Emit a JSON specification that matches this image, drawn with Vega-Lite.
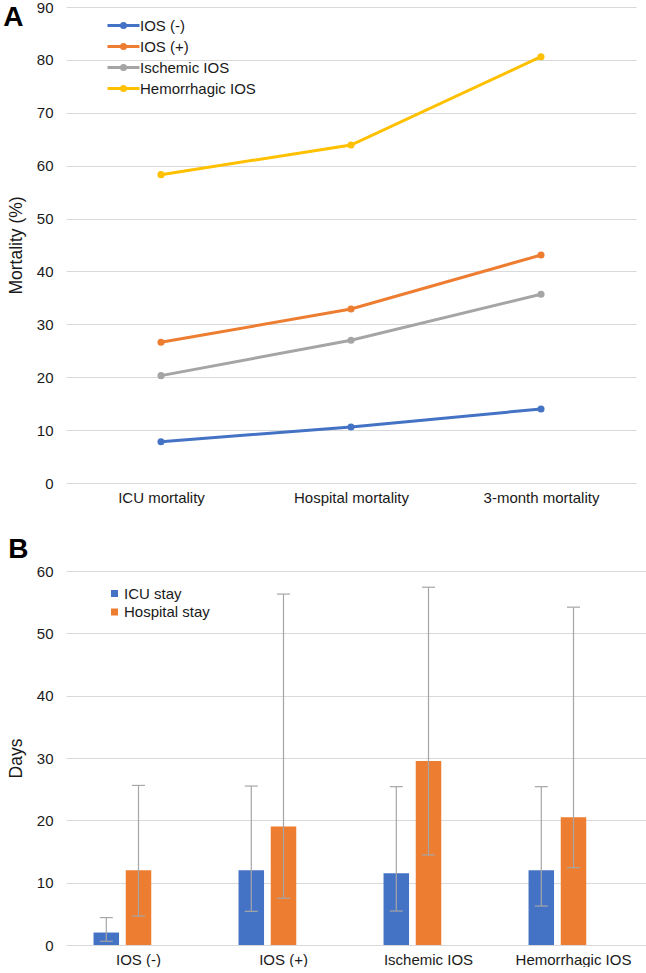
{
  "$schema": "https://vega.github.io/schema/vega-lite/v6.json",
  "padding": {"left": 3, "top": 0, "right": 0, "bottom": 0},
  "background": "white",
  "resolve": {"scale": {"color": "independent"}, "legend": {"color": "independent"}},
  "config": {
    "font": "Liberation Sans",
    "view": {"stroke": null},
    "axis": {
      "labelFont": "Liberation Sans",
      "labelFontSize": 15,
      "labelColor": "#1a1a1a",
      "titleFont": "Liberation Sans",
      "titleFontSize": 17.5,
      "titleFontWeight": "normal",
      "titleColor": "#1a1a1a",
      "gridColor": "#d9d9d9",
      "gridWidth": 1,
      "domain": false,
      "ticks": false
    },
    "legend": {"labelFont": "Liberation Sans", "labelFontSize": 15, "labelColor": "#1a1a1a"},
    "title": {"font": "Liberation Sans", "fontSize": 28, "fontWeight": "bold", "anchor": "start", "frame": "bounds", "color": "#000000", "offset": 0, "baseline": "bottom"},
    "concat": {"spacing": 31}
  },
  "vconcat": [
    {
      "title": {"text": "A", "dy": 36, "dx": -4},
      "width": 570,
      "height": 476,
      "data": {
        "values": [
          {"measure": "ICU mortality", "group": "IOS (-)", "mortality": 7.8},
          {"measure": "Hospital mortality", "group": "IOS (-)", "mortality": 10.6},
          {"measure": "3-month mortality", "group": "IOS (-)", "mortality": 14.0},
          {"measure": "ICU mortality", "group": "IOS (+)", "mortality": 26.6},
          {"measure": "Hospital mortality", "group": "IOS (+)", "mortality": 32.9},
          {"measure": "3-month mortality", "group": "IOS (+)", "mortality": 43.1},
          {"measure": "ICU mortality", "group": "Ischemic IOS", "mortality": 20.3},
          {"measure": "Hospital mortality", "group": "Ischemic IOS", "mortality": 27.0},
          {"measure": "3-month mortality", "group": "Ischemic IOS", "mortality": 35.7},
          {"measure": "ICU mortality", "group": "Hemorrhagic IOS", "mortality": 58.3},
          {"measure": "Hospital mortality", "group": "Hemorrhagic IOS", "mortality": 63.9},
          {"measure": "3-month mortality", "group": "Hemorrhagic IOS", "mortality": 80.6}
        ]
      },
      "mark": {"type": "line", "strokeWidth": 3, "point": {"filled": true, "size": 50, "opacity": 1}},
      "encoding": {
        "x": {
          "field": "measure", "type": "nominal",
          "sort": ["ICU mortality", "Hospital mortality", "3-month mortality"],
          "scale": {"paddingInner": 0, "paddingOuter": 0},
          "axis": {"title": null, "labelAngle": 0, "labelPadding": 7}
        },
        "y": {
          "field": "mortality", "type": "quantitative",
          "scale": {"domain": [0, 90], "nice": false},
          "axis": {"title": "Mortality (%)", "values": [0, 10, 20, 30, 40, 50, 60, 70, 80, 90], "labelPadding": 13, "titlePadding": 11}
        },
        "color": {
          "field": "group", "type": "nominal",
          "scale": {"domain": ["IOS (-)", "IOS (+)", "Ischemic IOS", "Hemorrhagic IOS"], "range": ["#4472C4", "#ED7D31", "#A5A5A5", "#FFC000"]},
          "legend": {
            "title": null, "orient": "none", "legendX": 56, "legendY": 9,
            "symbolType": "M-3,0L1,0M-0.75,0A0.25,0.25,0,1,0,-1.25,0A0.25,0.25,0,1,0,-0.75,0",
            "symbolSize": 256, "symbolStrokeWidth": 3, "rowPadding": 3, "labelOffset": -1
          }
        }
      }
    },
    {
      "title": {"text": "B", "dy": 4, "dx": 1},
      "width": 580,
      "height": 374,
      "data": {
        "values": [
          {"group": "IOS (-)", "stay": "ICU stay", "days": 2.0, "low": 0.6, "high": 4.4},
          {"group": "IOS (-)", "stay": "Hospital stay", "days": 12.0, "low": 4.65, "high": 25.6},
          {"group": "IOS (+)", "stay": "ICU stay", "days": 12.0, "low": 5.4, "high": 25.5},
          {"group": "IOS (+)", "stay": "Hospital stay", "days": 19.0, "low": 7.5, "high": 56.3},
          {"group": "Ischemic IOS", "stay": "ICU stay", "days": 11.5, "low": 5.45, "high": 25.4},
          {"group": "Ischemic IOS", "stay": "Hospital stay", "days": 29.5, "low": 14.45, "high": 57.4},
          {"group": "Hemorrhagic IOS", "stay": "ICU stay", "days": 12.0, "low": 6.25, "high": 25.4},
          {"group": "Hemorrhagic IOS", "stay": "Hospital stay", "days": 20.5, "low": 12.4, "high": 54.2}
        ]
      },
      "encoding": {
        "x": {
          "field": "group", "type": "nominal",
          "sort": ["IOS (-)", "IOS (+)", "Ischemic IOS", "Hemorrhagic IOS"],
          "scale": {"paddingInner": 0, "paddingOuter": 0},
          "axis": {"title": null, "labelAngle": 0, "labelPadding": 7}
        },
        "xOffset": {
          "field": "stay", "type": "nominal",
          "scale": {"domain": ["ICU stay", "Hospital stay", "pad"], "paddingInner": 0.208, "paddingOuter": 0.855}
        }
      },
      "layer": [
        {
          "mark": {"type": "bar"},
          "encoding": {
            "y": {
              "field": "days", "type": "quantitative", "title": "Days",
              "scale": {"domain": [0, 60], "nice": false},
              "axis": {"title": "Days", "values": [0, 10, 20, 30, 40, 50, 60], "labelPadding": 13, "titlePadding": 11}
            },
            "color": {
              "field": "stay", "type": "nominal",
              "scale": {"domain": ["ICU stay", "Hospital stay"], "range": ["#4472C4", "#ED7D31"]},
              "legend": {
                "title": null, "orient": "none", "legendX": 41, "legendY": 15,
                "symbolType": "square", "symbolSize": 49, "symbolStrokeWidth": 0,
                "rowPadding": 2.5, "labelOffset": 2
              }
            }
          }
        },
        {
          "mark": {"type": "rule", "color": "#A6A6A6", "strokeWidth": 1.2},
          "encoding": {
            "y": {"field": "low", "type": "quantitative", "title": "Days", "scale": {"domain": [0, 60], "nice": false}},
            "y2": {"field": "high"}
          }
        },
        {
          "mark": {"type": "tick", "color": "#A6A6A6", "thickness": 1.2, "size": 13, "opacity": 1},
          "encoding": {
            "y": {"field": "low", "type": "quantitative", "title": "Days", "scale": {"domain": [0, 60], "nice": false}}
          }
        },
        {
          "mark": {"type": "tick", "color": "#A6A6A6", "thickness": 1.2, "size": 13, "opacity": 1},
          "encoding": {
            "y": {"field": "high", "type": "quantitative", "title": "Days", "scale": {"domain": [0, 60], "nice": false}}
          }
        }
      ]
    }
  ]
}
